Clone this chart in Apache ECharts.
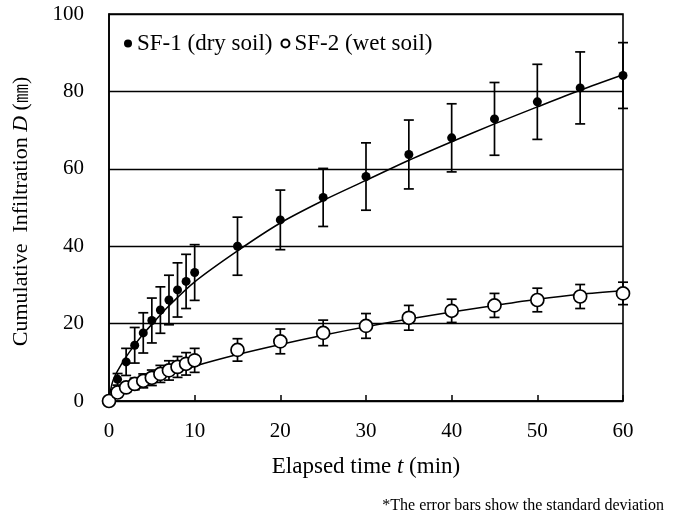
<!DOCTYPE html>
<html>
<head>
<meta charset="utf-8">
<script src="https://cdn.jsdelivr.net/npm/echarts@6/dist/echarts.min.js"></script>
<style>
  html, body { margin: 0; padding: 0; background: #fff; }
  #chart { width: 676px; height: 518px; }
</style>
</head>
<body>
<div id="chart"></div>
<script>
var times = [0, 1, 2, 3, 4, 5, 6, 7, 8, 9, 10, 15, 20, 25, 30, 35, 40, 45, 50, 55, 60];
var sf1Mean = [0, 5.6, 10.1, 14.4, 17.6, 20.8, 23.5, 26.1, 28.7, 30.9, 33.2, 40.0, 46.8, 52.6, 58.0, 63.7, 68.0, 72.9, 77.3, 80.9, 84.1];
var sf1Sd = [0, 1.5, 3.5, 4.6, 5.2, 5.8, 6.0, 6.4, 7.0, 7.0, 7.2, 7.5, 7.7, 7.5, 8.7, 8.9, 8.8, 9.4, 9.7, 9.3, 8.5];
var sf2Mean = [0, 2.2, 3.5, 4.4, 5.2, 6.0, 7.0, 7.9, 8.8, 9.6, 10.5, 13.2, 15.4, 17.6, 19.4, 21.5, 23.3, 24.7, 26.1, 27.0, 27.8];
var sf2Sd = [0, 0.8, 1.2, 1.5, 1.8, 2.0, 2.2, 2.5, 2.7, 2.9, 3.1, 2.9, 3.2, 3.3, 3.2, 3.2, 3.0, 3.1, 3.05, 3.1, 2.9];

// fitted curves
var curveT = [0, 0.2, 0.5, 1, 2, 3, 4, 5, 7, 10, 15, 20, 25, 30, 35, 40, 45, 50, 55, 60];
var sf1Curve = [0, 3.0, 5.5, 7.8, 11.4, 14.5, 17.3, 19.8, 24.6, 30.8, 38.8, 46.0, 51.8, 57.0, 62.2, 67.0, 71.6, 76.0, 80.3, 84.3];
var sf2Curve = [0, 0.6, 1.2, 1.9, 2.9, 3.8, 4.6, 5.3, 6.8, 9.0, 12.0, 14.6, 17.0, 19.2, 21.2, 23.0, 24.7, 26.3, 27.6, 28.5];

var serif = '"Liberation Serif", "Times New Roman", serif';

function pairs(xs, ys) {
    return xs.map(function (x, i) { return [x, ys[i]]; });
}
function bars(xs, m, s) {
    return xs.map(function (x, i) { return [x, m[i] - s[i], m[i] + s[i]]; });
}

function errorBar(params, api) {
    var lo = api.coord([api.value(0), api.value(1)]);
    var hi = api.coord([api.value(0), api.value(2)]);
    var w = 5;
    var st = { stroke: '#000', lineWidth: 1.7 };
    return {
        type: 'group',
        children: [
            { type: 'line', shape: { x1: lo[0], y1: lo[1], x2: hi[0], y2: hi[1] }, style: st },
            { type: 'line', shape: { x1: lo[0] - w, y1: lo[1], x2: lo[0] + w, y2: lo[1] }, style: st },
            { type: 'line', shape: { x1: hi[0] - w, y1: hi[1], x2: hi[0] + w, y2: hi[1] }, style: st }
        ]
    };
}

var myChart = echarts.init(document.getElementById('chart'));
var option = {
    animation: false,
    backgroundColor: '#fff',
    grid: { left: 109, right: 53, top: 14, bottom: 117, show: true, borderColor: '#000', borderWidth: 1.6 },
    legend: {
        left: 119, top: 27,
        itemWidth: 8, itemHeight: 8, itemGap: 8,
        data: ['SF-1 (dry soil)', 'SF-2 (wet soil)'],
        textStyle: { fontFamily: serif, fontSize: 23, color: '#000', padding: [0, 0, 0, 0] }
    },
    xAxis: {
        type: 'value', min: 0, max: 60, interval: 10,
        name: '{n|Elapsed time }{i|t}{n| (min)}',
        nameLocation: 'middle', nameGap: 54,
        nameTextStyle: { rich: {
            n: { fontFamily: serif, fontSize: 23, color: '#000' },
            i: { fontFamily: serif, fontSize: 23, color: '#000', fontStyle: 'italic' }
        } },
        axisLine: { lineStyle: { color: '#000', width: 1.6 } },
        axisTick: { inside: true, length: 6, lineStyle: { color: '#000', width: 1.5 } },
        axisLabel: { fontFamily: serif, fontSize: 21, color: '#000', margin: 20 },
        splitLine: { show: false }
    },
    yAxis: {
        type: 'value', min: 0, max: 100, interval: 20,
        name: '{n|Cumulative  Infiltration }{i|D}{n| (}{c|㎜}{n|)}',
        nameLocation: 'middle', nameGap: 77,
        nameTextStyle: { padding: [0, 8, 0, 0], rich: {
            n: { fontFamily: serif, fontSize: 22, color: '#000' },
            i: { fontFamily: serif, fontSize: 22, color: '#000', fontStyle: 'italic' },
            c: { fontFamily: '"Noto Sans CJK JP"', fontSize: 19, color: '#000' }
        } },
        axisLine: { lineStyle: { color: '#000', width: 1.6 } },
        axisTick: { show: false },
        axisLabel: { fontFamily: serif, fontSize: 21, color: '#000', margin: 25 },
        splitLine: { lineStyle: { color: '#000', width: 1.3 } }
    },
    series: [
        {
            type: 'line', data: pairs(curveT, sf1Curve), smooth: 0.3, symbol: 'none',
            lineStyle: { color: '#000', width: 1.5 }, z: 2
        },
        {
            type: 'line', data: pairs(curveT, sf2Curve), smooth: 0.3, symbol: 'none',
            lineStyle: { color: '#000', width: 1.5 }, z: 2
        },
        { type: 'custom', renderItem: errorBar, data: bars(times, sf1Mean, sf1Sd), z: 3 },
        { type: 'custom', renderItem: errorBar, data: bars(times, sf2Mean, sf2Sd), z: 3 },
        {
            name: 'SF-1 (dry soil)', type: 'scatter', data: pairs(times, sf1Mean),
            symbol: 'circle', symbolSize: 9, itemStyle: { color: '#000', opacity: 1 }, z: 5
        },
        {
            name: 'SF-2 (wet soil)', type: 'scatter', data: pairs(times, sf2Mean),
            symbol: 'circle', symbolSize: 13,
            itemStyle: { color: '#fff', borderColor: '#000', borderWidth: 1.7, opacity: 1 }, z: 6
        }
    ],
    graphic: [{
        type: 'text', right: 12, top: 498,
        style: { text: '*The error bars show the standard deviation', fontFamily: serif, fontSize: 16, fill: '#000' }
    }]
};
myChart.setOption(option);
</script>
</body>
</html>
